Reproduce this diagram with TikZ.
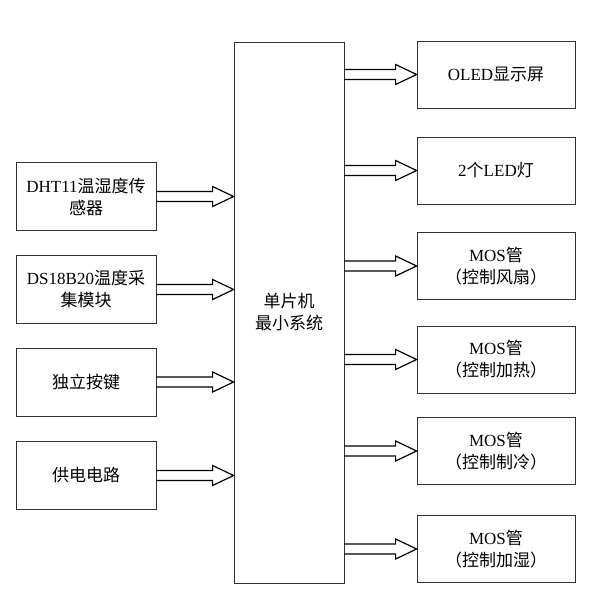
\documentclass[tikz,border=0pt]{standalone}
\usepackage{fontspec}
\setmainfont{Liberation Serif}
\newfontfamily\cjk{Noto Sans CJK SC}
\usetikzlibrary{calc}
\begin{document}
\begin{tikzpicture}[x=1pt,y=-1pt]
\tikzset{every node/.style={draw=black!80,line width=0.8pt,align=center,
                            font=\fontsize{17}{22}\selectfont,inner sep=2pt}}
\tikzset{inbox/.style={minimum width=140pt,minimum height=68pt}}
\tikzset{outbox/.style={minimum width=158pt,minimum height=67pt}}
\tikzset{fatarrow/.style={draw=black,line width=1.2pt,line join=miter}}
\useasboundingbox (0,0) rectangle (599,591);
% left side inputs
\node[inbox] (dht) at (86,196.5) {DHT11{\cjk 温湿度传}\\{\cjk 感器}};
\node[inbox] (ds)  at (86,289.5) {DS18B20{\cjk 温度采}\\{\cjk 集模块}};
\node[inbox] (key) at (86,382)   {{\cjk 独立按键}};
\node[inbox] (pwr) at (86,475.5) {{\cjk 供电电路}};
% mcu
\node[minimum width=110pt,minimum height=541pt] (mcu) at (289,312.5)
    {{\cjk 单片机}\\{\cjk 最小系统}};
% right side outputs
\node[outbox] (oled) at (496,74.5)  {OLED{\cjk 显示屏}};
\node[outbox] (led)  at (496,170.5) {2{\cjk 个}LED{\cjk 灯}};
\node[outbox] (fan)  at (496,266)   {MOS{\cjk 管}\\{\cjk （控制风扇）}};
\node[outbox] (heat) at (496,359.5) {MOS{\cjk 管}\\{\cjk （控制加热）}};
\node[outbox] (cool) at (496,451)   {MOS{\cjk 管}\\{\cjk （控制制冷）}};
\node[outbox] (hum)  at (496,549)   {MOS{\cjk 管}\\{\cjk （控制加湿）}};
% hollow arrows
\foreach \s/\e in {dht.east/dht.east -| mcu.west, ds.east/ds.east -| mcu.west,
                   key.east/key.east -| mcu.west, pwr.east/pwr.east -| mcu.west,
                   oled.west -| mcu.east/oled.west, led.west -| mcu.east/led.west,
                   fan.west -| mcu.east/fan.west, heat.west -| mcu.east/heat.west,
                   cool.west -| mcu.east/cool.west, hum.west -| mcu.east/hum.west}
{
    \coordinate (s) at (\s);
    \coordinate (e) at (\e);
    \draw[fatarrow] ($(s)+(0,-5)$) -- ($(e)+(-21,-5)$) -- ($(e)+(-21,-10)$)
        -- (e) -- ($(e)+(-21,10)$) -- ($(e)+(-21,5)$) -- ($(s)+(0,5)$);
}
\end{tikzpicture}
\end{document}
